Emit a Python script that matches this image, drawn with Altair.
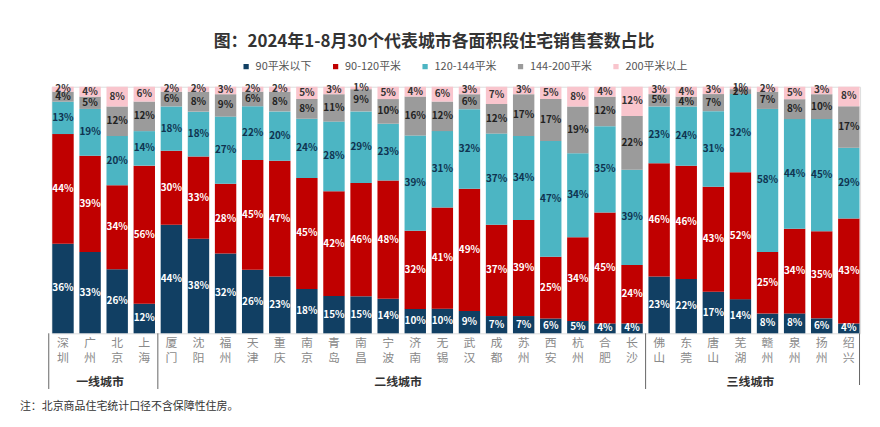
import altair as alt
import pandas as pd

cities = ["深圳", "广州", "北京", "上海", "厦门", "沈阳", "福州", "天津", "重庆", "南京",
          "青岛", "南昌", "宁波", "济南", "无锡", "武汉", "成都", "苏州", "西安", "杭州",
          "合肥", "长沙", "佛山", "东莞", "唐山", "芜湖", "赣州", "泉州", "扬州", "绍兴"]
segments = ["90平米以下", "90-120平米", "120-144平米", "144-200平米", "200平米以上"]

s_lt90 = [36, 33, 26, 12, 44, 38, 32, 26, 23, 18, 15, 15, 14, 10, 10, 9, 7, 7, 6, 5, 4, 4,
          23, 22, 17, 14, 8, 8, 6, 4]
s_90_120 = [44, 39, 34, 56, 30, 33, 28, 45, 47, 45, 42, 46, 48, 32, 41, 49, 37, 39, 25, 34, 45, 24,
            46, 46, 43, 52, 25, 34, 35, 43]
s_120_144 = [13, 19, 20, 14, 18, 18, 27, 22, 20, 24, 28, 29, 23, 39, 31, 32, 37, 34, 47, 34, 35, 39,
             23, 24, 31, 32, 58, 44, 45, 29]
s_144_200 = [4, 5, 12, 12, 6, 8, 9, 6, 8, 8, 11, 9, 10, 16, 12, 6, 12, 17, 17, 19, 12, 22,
             5, 4, 7, 2, 7, 8, 10, 17]
s_gt200 = [2, 4, 8, 6, 2, 2, 3, 2, 2, 5, 3, 1, 5, 4, 6, 3, 7, 3, 5, 8, 4, 12,
           3, 4, 3, 1, 2, 5, 3, 8]

group_names = ["一线城市", "二线城市", "三线城市"]
group_anchor = ["广州", "宁波", "芜湖"]
separator_cities = ["上海", "长沙"]
end_city = ["绍兴"]
footnote = "注：北京商品住宅统计口径不含保障性住房。"
title = "图：2024年1-8月30个代表城市各面积段住宅销售套数占比"

colors = ["#113f63", "#c00000", "#4cb5c3", "#9b9b9b", "#f9c5cd"]
label_colors = ["#ffffff", "#ffffff", "#0f3350", "#222222", "#333333"]

series = [s_lt90, s_90_120, s_120_144, s_144_200, s_gt200]
rows = []
for si, (seg, vals) in enumerate(zip(segments, series)):
    for c, v in zip(cities, vals):
        rows.append({"city": c, "seg": seg, "order": si, "value": v,
                     "label": f"{v}%", "lc": label_colors[si]})
df = pd.DataFrame(rows)

W, H = 813, 248
FONT = "Noto Sans CJK SC"

xscale = alt.Scale(domain=cities, paddingInner=0.21, paddingOuter=0.02)

base = alt.Chart(df).transform_joinaggregate(
    total="sum(value)", groupby=["city"]
).transform_calculate(
    frac="datum.value / datum.total"
).transform_stack(
    stack="frac", groupby=["city"], as_=["y0", "y1"],
    sort=[alt.SortField("order", order="ascending")]
).transform_calculate(
    mid="(datum.y0 + datum.y1) / 2"
)

bars = base.mark_bar().encode(
    x=alt.X("city:N", scale=xscale, sort=cities,
            axis=alt.Axis(title=None, labels=False, ticks=False, domainColor="#666666")),
    y=alt.Y("y0:Q", scale=alt.Scale(domain=[0, 1], nice=False),
            axis=alt.Axis(title=None, values=[i / 10 for i in range(11)], format=".0%",
                          labelFontSize=11, labelColor="#999999", grid=False,
                          domainColor="#999999", tickColor="#999999", tickSize=4,
                          labelPadding=3, labelFont=FONT)),
    y2="y1:Q",
    color=alt.Color("seg:N", scale=alt.Scale(domain=segments, range=colors),
                    legend=alt.Legend(title=None, orient="none", direction="horizontal",
                                      legendX=190, legendY=-26, symbolType="square",
                                      symbolSize=28, labelFontSize=11, labelColor="#555555",
                                      columnPadding=18, labelFont=FONT, symbolStrokeWidth=0)),
)

labels = base.mark_text(fontSize=10, fontWeight="bold", font=FONT).encode(
    x=alt.X("city:N", scale=xscale, sort=cities, axis=None),
    y=alt.Y("mid:Q", scale=alt.Scale(domain=[0, 1], nice=False), axis=None),
    text="label:N",
    color=alt.Color("lc:N", scale=None),
)

cdf = pd.DataFrame({"city": cities, "vert": ["\n".join(c) for c in cities]})
city_text = alt.Chart(cdf).mark_text(fontSize=12, color="#8a8a8a", font=FONT, baseline="top",
                                     lineBreak="\n", lineHeight=15).encode(
    x=alt.X("city:N", scale=xscale, sort=cities, axis=None),
    y=alt.value(H + 5),
    text="vert:N",
)

gdf = pd.DataFrame({"name": group_names, "anchor": group_anchor})
group_text = alt.Chart(gdf).mark_text(fontSize=12, fontWeight="bold", color="#333333",
                                      font=FONT, dx=10).encode(
    x=alt.X("anchor:N", scale=xscale, sort=cities, axis=None),
    y=alt.value(H + 49),
    text="name:N",
)

sep = alt.Chart(pd.DataFrame({"city": separator_cities})).mark_rule(
    color="#666666", strokeWidth=1).encode(
    x=alt.X("city:N", scale=xscale, sort=cities, axis=None),
    xOffset=alt.value(24.4),
    y=alt.value(H), y2=alt.value(H + 56),
)
end_sep = alt.Chart(pd.DataFrame({"city": end_city})).mark_rule(
    color="#666666", strokeWidth=1).encode(
    x=alt.X("city:N", scale=xscale, sort=cities, axis=None, bandPosition=1),
    y=alt.value(H), y2=alt.value(H + 52),
)
left_sep = alt.Chart(pd.DataFrame({"city": [cities[0]]})).mark_rule(
    color="#666666", strokeWidth=1).encode(
    x=alt.value(-3), y=alt.value(H), y2=alt.value(H + 56),
)

note = alt.Chart(pd.DataFrame({"t": [footnote]})).mark_text(
    fontSize=11, color="#333333", align="left", baseline="middle", font=FONT).encode(
    x=alt.value(-32), y=alt.value(H + 74), text="t:N",
)

chart = alt.layer(bars, labels, city_text, sep, end_sep, left_sep, group_text, note).properties(
    width=W, height=H,
    title=alt.TitleParams(title, fontSize=17, fontWeight="bold", color="#333333",
                          anchor="middle", dx=-22, offset=10, font=FONT),
    autosize=alt.AutoSizeParams(type="none"),
    padding={"left": 44, "top": 78, "right": 12, "bottom": 85},
).configure_view(stroke=None).configure(background="white")

chart.save("out.html", embed_options={"renderer": "svg", "actions": False})
